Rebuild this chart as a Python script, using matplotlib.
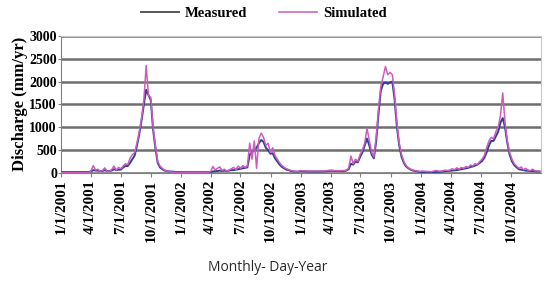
import pandas as pd
import numpy as np
import matplotlib
matplotlib.use("Agg")
import matplotlib.pyplot as plt

# weekly values, one list per year (mm/yr)
measured_2001 = [20] * 13 + [30, 60, 50, 50, 40, 40, 60, 40, 40, 50, 80, 60, 70, 70,
                             120, 150, 150, 220, 300, 380, 600, 850, 1150, 1500, 1820, 1700, 1600, 950, 550, 220, 120, 80, 50,
                             40, 30, 30, 25, 20, 20]
simulated_2001 = [10] * 13 + [40, 160, 60, 80, 30, 50, 110, 40, 30, 70, 150, 60, 120, 90,
                              150, 200, 180, 320, 400, 440, 650, 900, 1200, 1600, 2350, 1700, 1650, 1000, 600, 250, 150, 100, 60,
                              40, 30, 20, 15, 10, 10]

measured_2002 = [20] * 13 + [20, 30, 40, 40, 50, 40, 50, 40, 50, 60, 60, 70, 80, 90, 100, 110, 120,
                             400, 450, 500, 550, 650, 720, 680, 550, 500, 420, 430, 320, 250, 180, 130, 100, 70, 60, 40, 30, 30, 25]
simulated_2002 = [15] * 13 + [30, 140, 60, 100, 130, 50, 80, 40, 60, 90, 120, 70, 150, 100, 160, 120, 150,
                              650, 300, 700, 100, 750, 870, 780, 600, 650, 450, 550, 380, 300, 220, 160, 120, 90, 70, 50, 40, 30, 30]

measured_2003 = [40, 35, 35, 30, 30, 30, 30, 30, 30, 30, 30, 35, 40, 45, 45, 40, 40, 40, 40, 40, 50,
                 80, 200, 180, 250, 230, 350, 450, 600, 750, 600, 400, 320, 700, 1300, 1800,
                 1950, 1980, 1950, 1980, 2000, 1600, 1000, 600, 350, 220, 140, 100, 70, 50, 40, 30]
simulated_2003 = [50, 45, 45, 40, 40, 40, 40, 40, 40, 40, 40, 45, 50, 60, 55, 50, 45, 45, 50, 50, 60,
                  100, 370, 200, 300, 250, 400, 500, 650, 980, 700, 450, 350, 800, 1400, 1900,
                  2100, 2330, 2150, 2200, 2150, 1700, 1100, 650, 400, 250, 160, 110, 80, 60, 50, 40]

measured_2004 = [20, 15, 10, 10, 10, 10, 15, 20, 20, 25, 30, 40, 40,
                 45, 50, 55, 60, 70, 80, 90, 100, 110, 130, 140, 160, 180, 220, 260, 330, 450, 600, 700, 700,
                 800, 900, 1100, 1200, 1000, 650, 400, 250, 170, 120, 80, 70, 60, 50, 45, 40, 40, 35, 30, 30]
simulated_2004 = [30, 40, 35, 30, 30, 25, 40, 50, 40, 35, 45, 60, 50,
                  60, 90, 70, 110, 80, 120, 100, 140, 120, 170, 150, 200, 180, 250, 300, 380, 550, 700, 780, 750,
                  900, 1000, 1250, 1750, 1100, 700, 450, 300, 200, 150, 100, 130, 70, 100, 60, 50, 80, 45, 40, 40]

tick_labels = ["1/1/2001", "4/1/2001", "7/1/2001", "10/1/2001",
               "1/1/2002", "4/1/2002", "7/1/2002", "10/1/2002",
               "1/1/2003", "4/1/2003", "7/1/2003", "10/1/2003",
               "1/1/2004", "4/1/2004", "7/1/2004", "10/1/2004"]

measured = measured_2001 + measured_2002 + measured_2003 + measured_2004
simulated = simulated_2001 + simulated_2002 + simulated_2003 + simulated_2004
dates = pd.date_range("2001-01-01", periods=len(measured), freq="7D")

serif = "Liberation Serif"

fig = plt.figure(figsize=(5.5, 2.94), dpi=100)
ax = fig.add_axes([0.111, 0.412, 0.873, 0.466])

ax.plot(dates, measured, color="#2e3f8f", lw=1.4, label="Measured", zorder=3)
ax.plot(dates, simulated, color="#cc5cc0", lw=1.1, label="Simulated", zorder=4)

ax.set_xlim(pd.Timestamp("2001-01-01"), pd.Timestamp("2005-01-01"))
ax.set_ylim(0, 3000)
ax.set_yticks(np.arange(0, 3001, 500))
ax.set_yticklabels([str(v) for v in range(0, 3001, 500)], fontfamily=serif,
                   fontweight="bold", fontsize=10)

tick_dates = [pd.Timestamp(f"{y}-{m:02d}-01") for y in range(2001, 2005) for m in (1, 4, 7, 10)]
ax.set_xticks(tick_dates)
ax.set_xticklabels(tick_labels, rotation=90, fontfamily=serif, fontweight="bold", fontsize=11)

ax.grid(axis="y", color="#6e6e6e", lw=1.8)
ax.set_axisbelow(True)
for s in ["top", "right"]:
    ax.spines[s].set_color("#c8c8c8")
ax.spines["left"].set_color("#808080")
ax.spines["bottom"].set_color("#808080")
ax.tick_params(axis="x", length=3, color="#808080", pad=2)
ax.tick_params(axis="y", length=2, color="#808080", pad=1)

ax.set_ylabel("Discharge (mm/yr)", fontfamily=serif, fontweight="bold", fontsize=12, labelpad=1)
fig.text(0.487, 0.09, "Monthly- Day-Year", ha="center", va="center",
         fontfamily="Open Sans", fontsize=10, color="#2a2a2a")

leg = fig.legend(loc="upper center", bbox_to_anchor=(0.48, 1.02), ncol=2, frameon=False,
                 prop={"family": serif, "weight": "bold", "size": 10.5}, handlelength=2.6,
                 columnspacing=2.2, handletextpad=0.4)
leg.get_lines()[0].set_color("#555555")

fig.savefig("out.png", dpi=100)
